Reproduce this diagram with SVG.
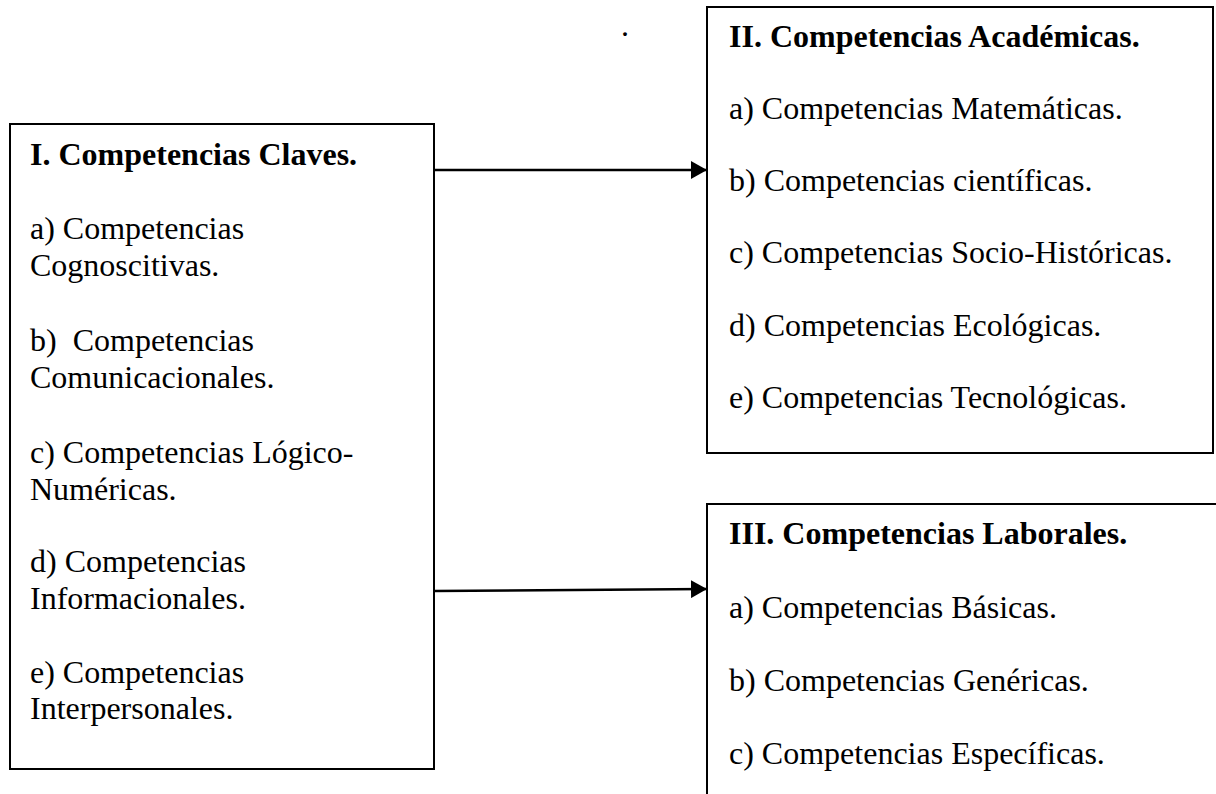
<svg xmlns="http://www.w3.org/2000/svg" width="1216" height="794" viewBox="0 0 1216 794">
  <style>
    .box { fill: #ffffff; stroke: #000000; stroke-width: 2; }
    .conn { stroke: #000000; stroke-width: 2.6; fill: none; }
    text { font-family: "Liberation Serif", "Times New Roman", serif; font-size: 32px; fill: #000000; white-space: pre; }
    .title { font-weight: bold; }
  </style>
  <defs>
    <marker id="arrow" viewBox="0 0 16 18" refX="16" refY="9" markerWidth="16" markerHeight="18" markerUnits="userSpaceOnUse" orient="auto">
      <path d="M0,0 L16,9 L0,18 z" fill="#000000"/>
    </marker>
  </defs>
  <rect x="0" y="0" width="1216" height="794" fill="#ffffff"/>

  <text x="621" y="36">.</text>

  <g id="claves">
    <rect class="box" x="10" y="124" width="424" height="645"/>
    <text class="title" x="30" y="165">I. Competencias Claves.</text>
    <text x="30" y="239">a) Competencias</text>
    <text x="30" y="276">Cognoscitivas.</text>
    <text x="30" y="351">b)  Competencias</text>
    <text x="30" y="388">Comunicacionales.</text>
    <text x="30" y="463">c) Competencias Lógico-</text>
    <text x="30" y="500">Numéricas.</text>
    <text x="30" y="572">d) Competencias</text>
    <text x="30" y="609">Informacionales.</text>
    <text x="30" y="683">e) Competencias</text>
    <text x="30" y="719">Interpersonales.</text>
  </g>

  <g id="academicas">
    <rect class="box" x="707" y="7" width="506" height="446"/>
    <text class="title" x="729" y="47">II. Competencias Académicas.</text>
    <text x="729" y="119">a) Competencias Matemáticas.</text>
    <text x="729" y="191">b) Competencias científicas.</text>
    <text x="729" y="263">c) Competencias Socio-Históricas.</text>
    <text x="729" y="336">d) Competencias Ecológicas.</text>
    <text x="729" y="408">e) Competencias Tecnológicas.</text>
  </g>

  <g id="laborales">
    <rect class="box" x="707" y="504" width="530" height="310"/>
    <text class="title" x="729" y="544">III. Competencias Laborales.</text>
    <text x="729" y="618">a) Competencias Básicas.</text>
    <text x="729" y="691">b) Competencias Genéricas.</text>
    <text x="729" y="764">c) Competencias Específicas.</text>
  </g>

  <g id="connectors">
    <line class="conn" x1="434" y1="170" x2="707" y2="170" marker-end="url(#arrow)"/>
    <line class="conn" x1="434" y1="591" x2="707" y2="589" marker-end="url(#arrow)"/>
  </g>
</svg>
